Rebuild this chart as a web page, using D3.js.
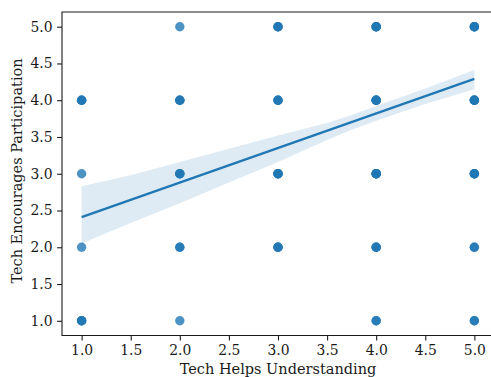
<!DOCTYPE html>
<html>
<head>
<meta charset="utf-8">
<script src="https://cdn.jsdelivr.net/npm/d3@7"></script>
<style>
  body { margin: 0; background: #fff; }
  svg { display: block; font-family: "DejaVu Serif", serif; }
</style>
</head>
<body>
<div id="chart"></div>
<script>
// survey answers (x, y) and how many respondents sit on each spot
const pointX = [1, 1, 1, 1, 2, 2, 2, 2, 2, 3, 3, 3, 3, 4, 4, 4, 4, 4, 5, 5, 5, 5, 5];
const pointY = [4, 3, 2, 1, 5, 4, 3, 2, 1, 5, 4, 3, 2, 5, 4, 3, 2, 1, 5, 4, 3, 2, 1];
const pointN = [3, 1, 1, 3, 1, 3, 3, 2, 1, 3, 3, 4, 3, 4, 4, 5, 3, 2, 4, 4, 4, 2, 2];

// fitted line and its confidence band
const fitX = [1, 5];
const fitY = [2.41, 4.29];
const bandX = [1, 1.5, 2, 2.5, 3, 3.5, 3.75, 4, 4.5, 5];
const bandHi = [2.83, 2.98, 3.16, 3.34, 3.52, 3.69, 3.80, 3.92, 4.16, 4.41];
const bandLo = [2.05, 2.33, 2.60, 2.88, 3.16, 3.46, 3.60, 3.72, 3.95, 4.15];

const xTicks = [1.0, 1.5, 2.0, 2.5, 3.0, 3.5, 4.0, 4.5, 5.0];
const yTicks = [1.0, 1.5, 2.0, 2.5, 3.0, 3.5, 4.0, 4.5, 5.0];

const width = 491, height = 377;
const margin = ({top: 12, left: 62, plotW: 432, plotH: 323.5});
const blue = "#1f77b4";
const ink = "#1a1a1a";

const svg = d3.select("#chart").append("svg")
  .attr("width", width)
  .attr("height", height);

const x = d3.scaleLinear().domain([0.8, 5.2]).range([margin.left, margin.left + margin.plotW]);
const y = d3.scaleLinear().domain([0.8, 5.2]).range([margin.top + margin.plotH, margin.top]);

// scatter: one translucent dot per respondent, so stacked spots go darker
const dots = [];
pointX.forEach((px, i) => {
  for (let k = 0; k < pointN[i]; k++) dots.push({x: px, y: pointY[i]});
});
svg.append("g")
  .selectAll("circle")
  .data(dots)
  .join("circle")
    .attr("cx", d => x(d.x))
    .attr("cy", d => y(d.y))
    .attr("r", 4.7)
    .attr("fill", blue)
    .attr("fill-opacity", 0.8);

// confidence band
const band = d3.area()
  .x((d, i) => x(bandX[i]))
  .y0((d, i) => y(bandLo[i]))
  .y1((d, i) => y(bandHi[i]));
svg.append("path")
  .datum(bandX)
  .attr("d", band)
  .attr("fill", blue)
  .attr("fill-opacity", 0.15);

// regression line
svg.append("path")
  .datum(fitX)
  .attr("d", d3.line().x(d => x(d)).y((d, i) => y(fitY[i])))
  .attr("fill", "none")
  .attr("stroke", blue)
  .attr("stroke-width", 2.2);

// axes
const xAxis = svg.append("g")
  .attr("transform", `translate(0, ${margin.top + margin.plotH})`)
  .call(d3.axisBottom(x).tickValues(xTicks).tickFormat(d3.format(".1f")).tickSize(4.9).tickPadding(4.5).tickSizeOuter(0));
const yAxis = svg.append("g")
  .attr("transform", `translate(${margin.left}, 0)`)
  .call(d3.axisLeft(y).tickValues(yTicks).tickFormat(d3.format(".1f")).tickSize(4.9).tickPadding(4.5).tickSizeOuter(0));

[xAxis, yAxis].forEach(a => {
  a.select(".domain").remove();
  a.selectAll("line").attr("stroke", ink).attr("stroke-width", 1.1);
  a.selectAll("text")
    .style("font-family", "'DejaVu Serif', serif")
    .style("font-size", "13.9px")
    .attr("fill", ink);
});

// spines (the right one falls outside the cropped picture)
const x0 = margin.left, x1 = margin.left + margin.plotW;
const y0 = margin.top, y1 = margin.top + margin.plotH;
svg.append("path")
  .attr("d", `M${x1},${y0}H${x0}V${y1}H${x1}`)
  .attr("fill", "none")
  .attr("stroke", ink)
  .attr("stroke-width", 1.1);

svg.append("text")
  .attr("x", margin.left + margin.plotW / 2)
  .attr("y", 374)
  .attr("text-anchor", "middle")
  .style("font-size", "14.5px")
  .attr("fill", ink)
  .text("Tech Helps Understanding");

svg.append("text")
  .attr("transform", `translate(22, 171) rotate(-90)`)
  .attr("text-anchor", "middle")
  .style("font-size", "14.5px")
  .attr("fill", ink)
  .text("Tech Encourages Participation");
</script>
</body>
</html>
